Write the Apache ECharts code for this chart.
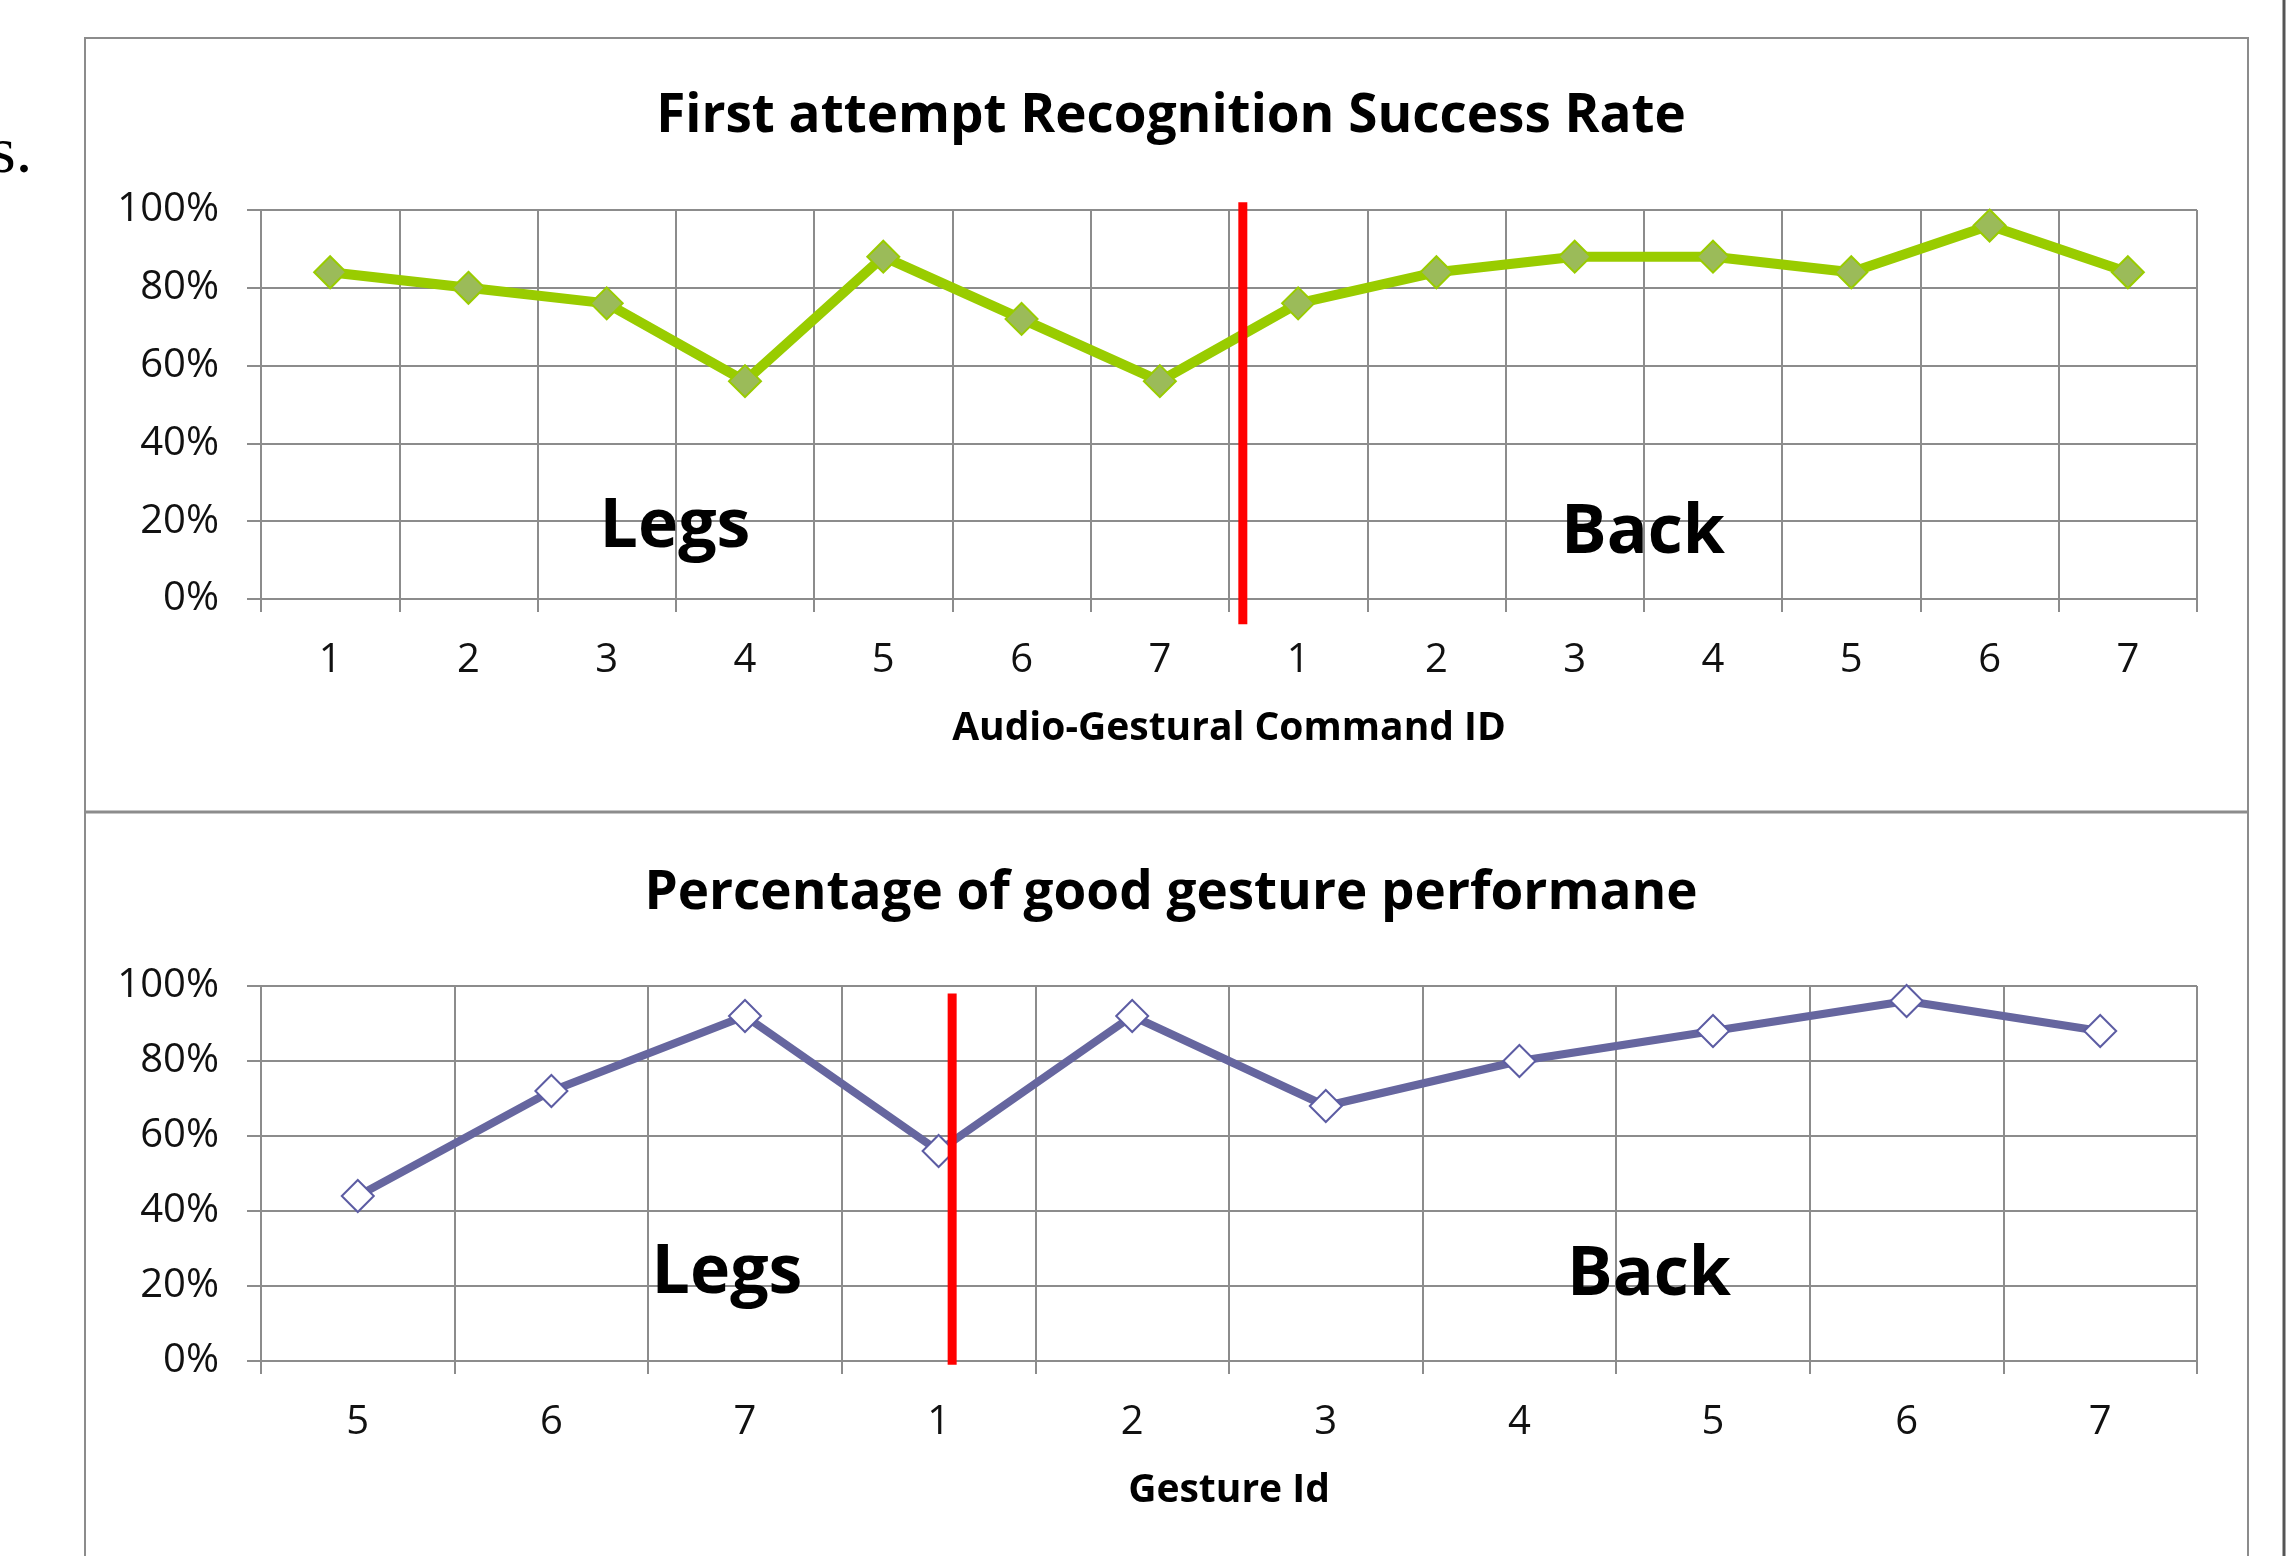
<!DOCTYPE html>
<html>
<head>
<meta charset="utf-8">
<script src="https://cdn.jsdelivr.net/npm/echarts@6/dist/echarts.min.js"></script>
<style>
  html, body { margin: 0; padding: 0; background: #ffffff; }
  #chart { width: 2290px; height: 1556px; }
</style>
</head>
<body>
<div id="chart"></div>
<script>
// data
const topCategories = ["1", "2", "3", "4", "5", "6", "7", "1", "2", "3", "4", "5", "6", "7"];
const topValues = [84, 80, 76, 56, 88, 72, 56, 76, 84, 88, 88, 84, 96, 84];
const bottomCategories = ["5", "6", "7", "1", "2", "3", "4", "5", "6", "7"];
const bottomValues = [44, 72, 92, 56, 92, 68, 80, 88, 96, 88];
const percentTicks = [0, 20, 40, 60, 80, 100];
// red separator lines, [position along x in category units, percent]
const topSeparator = [[7.1, -6.5], [7.1, 102]];
const bottomSeparator = [[3.57, -1], [3.57, 98]];

const FONT = "'Open Sans', sans-serif";
const GRID_COLOR = "#8c8c8c";

const chart = echarts.init(document.getElementById("chart"), null, { renderer: "canvas" });

const yAxisBase = (gridIndex) => ({
  type: "value",
  gridIndex: gridIndex,
  min: percentTicks[0],
  max: percentTicks[percentTicks.length - 1],
  interval: percentTicks[1] - percentTicks[0],
  axisLine: { show: true, lineStyle: { color: GRID_COLOR, width: 2 } },
  axisTick: { show: true, length: 14, lineStyle: { color: GRID_COLOR, width: 2 } },
  axisLabel: {
    formatter: "{value}%",
    color: "#111111",
    fontFamily: FONT,
    fontSize: 40,
    margin: 42,
  },
  splitLine: { show: true, lineStyle: { color: GRID_COLOR, width: 2 } },
});

const categoryAxis = (gridIndex, data, name) => ({
  type: "category",
  gridIndex: gridIndex,
  data: data,
  boundaryGap: true,
  name: name,
  nameLocation: "middle",
  nameGap: 110,
  nameTextStyle: { color: "#000000", fontFamily: FONT, fontSize: 39, fontWeight: "bold" },
  axisLine: { show: true, lineStyle: { color: GRID_COLOR, width: 2 } },
  axisTick: { show: true, interval: 0, length: 13, lineStyle: { color: GRID_COLOR, width: 2 } },
  axisLabel: { interval: 0, color: "#111111", fontFamily: FONT, fontSize: 40, margin: 42 },
  splitLine: { show: true, interval: 0, lineStyle: { color: GRID_COLOR, width: 2 } },
});

const hiddenAxis = (gridIndex, max) => ({
  type: "value",
  gridIndex: gridIndex,
  min: 0,
  max: max,
  show: false,
});

const regionText = (text, x, y) => ({
  type: "text",
  x: x,
  y: y,
  style: {
    text: text,
    fill: "#000000",
    font: "bold 68px " + FONT,
    textAlign: "center",
    textVerticalAlign: "middle",
  },
  z: 20,
});

const option = {
  backgroundColor: "#ffffff",
  animation: false,
  title: [
    {
      text: "First attempt Recognition Success Rate",
      left: 1166,
      top: 85,
      textAlign: "center",
      textStyle: { color: "#000000", fontFamily: FONT, fontSize: 53, fontWeight: "bold" },
    },
    {
      text: "Percentage of good gesture performane",
      left: 1166,
      top: 862,
      textAlign: "center",
      textStyle: { color: "#000000", fontFamily: FONT, fontSize: 53, fontWeight: "bold" },
    },
  ],
  grid: [
    { left: 261, right: 93, top: 210, height: 389 },
    { left: 261, right: 93, top: 986, height: 375 },
  ],
  xAxis: [
    categoryAxis(0, topCategories, "Audio-Gestural Command ID"),
    categoryAxis(1, bottomCategories, "Gesture Id"),
    hiddenAxis(0, topCategories.length),
    hiddenAxis(1, bottomCategories.length),
  ],
  yAxis: [yAxisBase(0), yAxisBase(1)],
  series: [
    {
      type: "line",
      xAxisIndex: 0,
      yAxisIndex: 0,
      data: topValues,
      symbol: "diamond",
      symbolSize: 32,
      lineStyle: { color: "#99cc00", width: 10 },
      itemStyle: { color: "#9bbb59", borderColor: "#99cc00", borderWidth: 2 },
      z: 5,
    },
    {
      type: "line",
      xAxisIndex: 1,
      yAxisIndex: 1,
      data: bottomValues,
      symbol: "diamond",
      symbolSize: 32,
      lineStyle: { color: "#66669f", width: 8 },
      itemStyle: { color: "#ffffff", borderColor: "#5c5ca3", borderWidth: 2 },
      z: 5,
    },
    {
      type: "line",
      xAxisIndex: 2,
      yAxisIndex: 0,
      data: topSeparator,
      symbol: "none",
      clip: false,
      lineStyle: { color: "#ff0000", width: 9 },
      z: 10,
    },
    {
      type: "line",
      xAxisIndex: 3,
      yAxisIndex: 1,
      data: bottomSeparator,
      symbol: "none",
      clip: false,
      lineStyle: { color: "#ff0000", width: 9 },
      z: 10,
    },
  ],
  graphic: [
    // chart frame
    {
      type: "rect",
      shape: { x: 85, y: 38, width: 2163, height: 1540 },
      style: { fill: "none", stroke: "#8c8c8c", lineWidth: 2 },
      z: 0,
    },
    {
      type: "line",
      shape: { x1: 85, y1: 812, x2: 2248, y2: 812 },
      style: { stroke: "#8c8c8c", lineWidth: 3 },
    },
    {
      type: "line",
      shape: { x1: 2284, y1: 0, x2: 2284, y2: 1556 },
      style: { stroke: "#555555", lineWidth: 3 },
    },
    {
      type: "text",
      x: -10,
      y: 188,
      style: { text: "s.", fill: "#000000", font: "66px 'Liberation Serif', serif", textVerticalAlign: "bottom" },
    },
    regionText("Legs", 675, 528),
    regionText("Back", 1643, 534),
    regionText("Legs", 727, 1274),
    regionText("Back", 1649, 1276),
  ],
};

chart.setOption(option);
</script>
</body>
</html>
